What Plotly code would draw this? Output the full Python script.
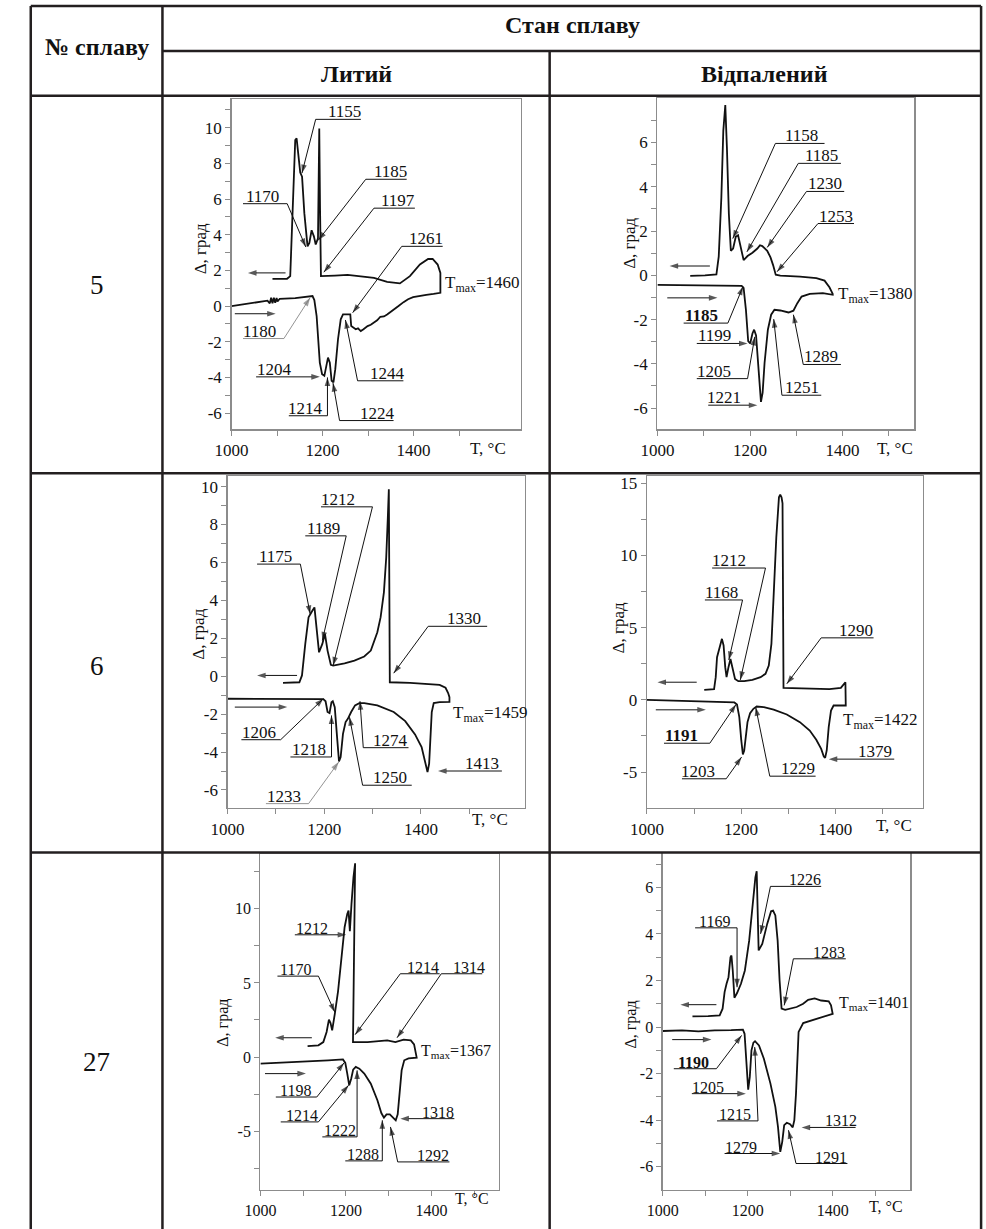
import plotly.graph_objects as go

W, H = 986, 1229
SERIF = "Liberation Serif, Times New Roman, serif"
INK = "#111111"
FRAME = "#8c8c8c"
RULE = "#231f20"
GRAYLEAD = "#777777"

# ======================= DATA: DTA curves (T, °C ; Δ, град) =======================
# Alloy 5, cast
a5c_heat_T = [1000, 1025, 1054, 1079, 1084, 1087, 1090, 1093, 1096, 1099, 1101, 1106, 1140, 1173, 1178,
              1182, 1187, 1194, 1199, 1204, 1208, 1212, 1216, 1220, 1224, 1228, 1234, 1240, 1245, 1261,
              1263, 1268, 1273, 1278, 1284, 1290, 1299, 1306, 1313, 1320, 1327, 1335, 1342, 1349, 1356,
              1367, 1378, 1388, 1399, 1414, 1428, 1444, 1459]
a5c_heat_D = [0.0, 0.09, 0.22, 0.30, 0.15, 0.47, 0.15, 0.47, 0.19, 0.45, 0.26, 0.41, 0.45, 0.52, 0.56,
              0.34, -0.56, -3.17, -3.82, -3.91, -3.35, -2.89, -3.17, -4.19, -4.28, -3.54, -1.86, -0.74, -0.47, -0.47,
              -1.12, -1.22, -1.30, -1.25, -1.40, -1.30, -1.12, -1.05, -0.93, -0.80, -0.60, -0.58, -0.47, -0.35, -0.19,
              0.0, 0.22, 0.38, 0.50, 0.58, 0.63, 0.68, 0.745]
a5c_cool_T = [1090, 1122, 1129, 1135, 1140, 1143, 1147, 1151, 1155, 1160, 1167, 1171, 1176, 1181, 1185,
              1190, 1192.8, 1194.5, 1196.5, 1227, 1255, 1284, 1313, 1342, 1370, 1392, 1414, 1432, 1442,
              1453, 1459]
a5c_cool_D = [1.53, 1.53, 1.68, 6.15, 9.31, 9.40, 8.57, 7.49, 7.26, 5.21, 3.35, 3.54, 4.25, 3.91, 3.45,
              3.80, 9.96, 5.50, 1.68, 1.71, 1.75, 1.68, 1.58, 1.36, 1.27, 1.68, 2.33, 2.64, 2.64,
              2.33, 1.86]

# Alloy 5, annealed
a5a_heat_T = [1000, 1053.1, 1123.9, 1182, 1186.2, 1191.2, 1196.1, 1200.4, 1205.3, 1208.9, 1213.1, 1218.1,
              1223.7, 1227.3, 1231.5, 1238.6, 1245.7, 1252.8, 1265.5, 1283.2, 1293.8, 1302.3, 1311.5,
              1329.2, 1357.5, 1378.8]
a5a_heat_D = [-0.43, -0.45, -0.48, -0.48, -0.57, -1.56, -2.98, -3.08, -2.63, -2.46, -2.72, -4.25,
              -5.72, -5.30, -3.95, -2.46, -1.78, -1.56, -1.59, -1.68, -1.60, -1.26, -0.96,
              -0.84, -0.81, -0.88]
a5a_cool_T = [1070.8, 1102.7, 1127.4, 1132.4, 1138.1, 1142.3, 1146.6, 1150.1, 1154.3, 1158.6, 1163.5,
              1169.2, 1174.2, 1179.1, 1186.2, 1194.7, 1205.3, 1215.9, 1221.6, 1226.6, 1231.5, 1237.2,
              1244.3, 1249.9, 1255.6, 1265.5, 1308, 1343.4, 1361.1, 1371.7, 1378.8]
a5a_cool_D = [-0.03, 0.0, 0.04, 0.84, 3.53, 6.53, 7.69, 5.78, 2.78, 1.11, 1.21,
              1.74, 1.81, 1.29, 0.69, 0.87, 1.02, 1.21, 1.36, 1.32, 1.21, 1.11,
              0.81, 0.46, 0.03, -0.01, -0.06, -0.13, -0.24, -0.54, -0.84]

# Alloy 6, cast
a6c_heat_T = [1000, 1072.5, 1140.3, 1198, 1202.7, 1206.8, 1210.9, 1214.9, 1217.6, 1221.7, 1226.5, 1230.5,
              1233.9, 1238.7, 1244.1, 1248.8, 1255.6, 1263.7, 1272.6, 1282.7, 1309.8, 1343.7, 1367.5,
              1387.8, 1401.4, 1409.5, 1413.6, 1417, 1419.7, 1422.4, 1426.5, 1438.7, 1459]
a6c_heat_D = [-1.19, -1.19, -1.23, -1.21, -1.32, -1.89, -1.95, -1.37, -1.32, -1.63, -3.21, -4.49,
              -4.26, -3.04, -2.42, -2.25, -1.89, -1.54, -1.42, -1.42, -1.54, -1.89, -2.37,
              -3.07, -3.74, -4.53, -5.05, -4.61, -3.21, -1.89, -1.42, -1.37, -1.35]
a6c_cool_T = [1114.6, 1148.5, 1153.9, 1160.7, 1167.5, 1171.5, 1175.6, 1179.7, 1184.4, 1189.2, 1196,
              1201.4, 1206.8, 1213.6, 1218.3, 1242, 1262.4, 1282.7, 1296.3, 1303, 1309.8, 1316.6,
              1323.4, 1328.2, 1331.5, 1333.6, 1335.6, 1377.6, 1411.5, 1438.7, 1450.9, 1456.3, 1459]
a6c_cool_D = [-0.35, -0.32, 0.04, 1.70, 3.11, 3.25, 3.46, 3.63, 2.40, 1.26, 1.70,
              2.23, 1.35, 0.60, 0.56, 0.68, 0.82, 1.04, 1.35, 1.88, 2.32, 3.11,
              4.42, 6.26, 8.37, 9.86, -0.32, -0.35, -0.40, -0.46, -0.61, -0.89, -1.11]

# Alloy 6, annealed
a6a_heat_T = [1000, 1074.4, 1144, 1185.7, 1191.3, 1196.2, 1200.4, 1203.8, 1206.6, 1209.4, 1213.6, 1219.1,
              1226.1, 1233.1, 1248.4, 1269.2, 1297.1, 1324.9, 1345.8, 1359.7, 1370.1, 1375.7, 1378.5,
              1381.9, 1386.1, 1391, 1396.5, 1422.3]
a6a_heat_D = [0.0, -0.07, -0.14, -0.18, -0.32, -1.20, -2.81, -3.78, -3.50, -2.58, -1.54, -0.92,
              -0.62, -0.46, -0.51, -0.67, -1.01, -1.54, -2.12, -2.76, -3.39, -3.92, -4.01,
              -3.50, -1.89, -0.74, -0.39, -0.39]
a6a_cool_T = [1121.7, 1142.6, 1146.1, 1148.9, 1152.4, 1155.8, 1159.3, 1162.8, 1166.3, 1169.1, 1173.2,
              1177.4, 1181.6, 1187.1, 1194.1, 1206.6, 1224, 1241.4, 1251.8, 1258.8, 1264.4, 1269.2,
              1274.8, 1280.4, 1283.1, 1285.9, 1288, 1290.1, 1317.9, 1352.7, 1387.5, 1411.9, 1418.8,
              1421.6, 1422.3]
a6a_cool_D = [0.69, 0.74, 1.57, 2.95, 3.23, 3.76, 4.22, 3.76, 2.26, 1.57, 2.26,
              2.83, 2.26, 1.45, 1.29, 1.29, 1.38, 1.57, 1.80, 2.37, 3.87, 7.10,
              11.24, 14.01, 14.19, 14.01, 13.59, 0.83, 0.83, 0.76, 0.74, 0.83, 1.11,
              1.22, -0.39]

# Alloy 27, cast
a27c_heat_T = [1000, 1043.7, 1082, 1120.3, 1158.6, 1193.1, 1198.5, 1203.1, 1207.7, 1212.3, 1216.9, 1223,
               1231.4, 1242.9, 1258.2, 1273.6, 1282.8, 1288.9, 1295, 1302.7, 1310.3, 1316.5, 1321.1,
               1325.7, 1330.3, 1336.4, 1346.4, 1365.5]
a27c_heat_D = [-0.45, -0.40, -0.34, -0.27, -0.22, -0.16, -0.40, -1.12, -1.91, -1.46, -0.85, -0.67,
               -0.79, -1.12, -1.80, -2.92, -3.78, -4.09, -3.87, -3.87, -4.09, -4.27, -3.87,
               -2.47, -0.90, -0.22, -0.09, -0.04]
a27c_cool_T = [1110.3, 1135.6, 1147.1, 1154.8, 1160.2, 1164, 1167.8, 1174, 1181.6, 1189.3, 1196.9,
               1203.1, 1206.1, 1209.2, 1213, 1217.6, 1221.5, 1216.5, 1250.6, 1296.6, 1315.7, 1334.9,
               1351.7, 1359.4, 1364, 1365.5]
a27c_cool_D = [0.74, 0.79, 1.01, 1.69, 2.52, 2.29, 1.80, 2.92, 4.45, 6.63, 8.76,
               9.66, 9.89, 8.49, 10.34, 12.13, 13.08, 1.01, 1.01, 1.12, 1.01, 1.17,
               1.12, 0.85, 0.22, -0.04]

# Alloy 27, annealed
a27a_heat_T = [1000, 1045.5, 1084, 1122.5, 1161.1, 1188.8, 1192.7, 1196.5, 1201.2, 1205, 1208.9, 1213.5,
               1217.3, 1226.6, 1238.1, 1253.6, 1265.1, 1271.3, 1276.7, 1281.3, 1285.9, 1292.1, 1299.8,
               1306, 1309.8, 1313.7, 1316.8, 1319.8, 1330.6, 1353.7, 1384.6, 1400]
a27a_heat_D = [-0.17, -0.14, -0.19, -0.14, -0.13, -0.11, -0.29, -1.29, -2.69, -2.14, -1.0, -0.67,
               -0.61, -0.79, -1.36, -2.43, -3.43, -4.29, -5.36, -4.93, -4.21, -4.11, -4.17,
               -4.31, -4.0, -2.86, -1.29, -0.21, 0.17, 0.31, 0.47, 0.57]
a27a_cool_T = [1070.1, 1107.1, 1134.1, 1141, 1145.7, 1150.3, 1154.9, 1159.5, 1161.8, 1164.9, 1168.8,
               1175, 1184.2, 1193.4, 1203.5, 1211.9, 1218.1, 1221.2, 1223.5, 1225.8, 1234.3, 1245.9,
               1255.1, 1259.7, 1265.1, 1270.5, 1275.1, 1279.8, 1288.2, 1303.7, 1315.2, 1330.6, 1342.2,
               1357.6, 1373, 1390.7, 1396.1, 1400]
a27a_cool_D = [0.46, 0.47, 0.50, 0.79, 1.50, 1.86, 2.14, 3.00, 3.07, 2.43, 1.26,
               1.46, 1.86, 2.43, 3.71, 5.29, 6.43, 6.69, 5.86, 3.29, 3.57, 4.43,
               4.97, 5.0, 4.79, 3.71, 2.00, 0.79, 0.74, 0.81, 0.86, 1.00, 1.17,
               1.23, 1.14, 1.10, 0.93, 0.57]

# ======================= DATA: marked points (label, T, Δ at arrow tip) =======================
a5c_labels = ["1155", "1170", "1185", "1197", "1261", "1180", "1204", "1214", "1224", "1244"]
a5c_mark_T = [1154.7, 1163.3, 1190.6, 1202.9, 1266.2, 1172.7, 1194.2, 1210.8, 1223.0, 1250.3]
a5c_mark_D = [7.45, 3.31, 3.69, 1.90, -0.37, 0.47, -3.97, -4.0, -4.32, -0.78]

a5a_labels = ["1158", "1185", "1230", "1253", "1185", "1199", "1205", "1221", "1251", "1289"]
a5a_mark_T = [1162.8, 1193.3, 1237.2, 1258.4, 1184.8, 1194.7, 1210.3, 1215.9, 1251.3, 1293.8]
a5a_mark_D = [1.66, 1.06, 1.26, 0.16, -0.51, -3.08, -2.78, -5.87, -1.98, -1.78]

a6c_labels = ["1175", "1189", "1212", "1330", "1206", "1218", "1233", "1250", "1274", "1413"]
a6c_mark_T = [1170.9, 1196.0, 1218.3, 1343.7, 1198.0, 1215.0, 1229.8, 1252.2, 1273.9, 1435.3]
a6c_mark_D = [3.28, 1.88, 0.56, 0.16, -1.19, -2.07, -4.53, -2.16, -1.32, -5.0]

a6a_labels = ["1212", "1168", "1290", "1191", "1203", "1229", "1379"]
a6a_mark_T = [1198.3, 1173.9, 1297.1, 1189.2, 1201.0, 1231.0, 1386.1]
a6a_mark_D = [1.38, 2.76, 1.11, -0.32, -3.96, -0.51, -4.10]

a27c_labels = ["1212", "1170", "1214", "1314", "1198", "1214", "1222", "1288", "1292", "1318"]
a27c_mark_T = [1200.8, 1174.0, 1221.5, 1319.5, 1195.4, 1206.1, 1226.1, 1285.1, 1304.2, 1327.2]
a27c_mark_D = [8.25, 3.03, 1.51, 1.30, -0.40, -1.91, -0.90, -4.27, -4.72, -4.16]

a27a_labels = ["1169", "1226", "1283", "1190", "1205", "1215", "1279", "1291", "1312"]
a27a_mark_T = [1175.0, 1230.4, 1285.9, 1185.7, 1195.8, 1216.6, 1276.7, 1296.0, 1326.8]
a27a_mark_D = [1.71, 4.0, 0.93, -0.36, -2.86, -0.86, -5.43, -4.43, -4.31]

# maximum heating temperatures
tmax_values = ["1460", "1380", "1459", "1422", "1367", "1401"]

# ======================= LAYOUT: leader geometry & styles =======================
# (text centre T, far end of shelf T, elbow T, shelf level Δ)
a5c_leaders = [(1249, 1284.2, 1184.9, 10.47), (1068.3, 1025.2, 1122.3, 5.74), (1348.9, 1384.9, 1295.0, 7.11),
               (1366.9, 1402.9, 1313.0, 5.49), (1428.0, 1464.0, 1374.1, 3.35), (1061.1, 1025.2, 1115.1, -1.82),
               (1093.5, 1054.0, 1194.2, -3.97), (1163.3, 1125.9, 1210.8, -6.15), (1320.1, 1356.1, 1237.4, -6.42),
               (1341.7, 1377.7, 1277.0, -4.19)]
a5c_style = ["", "", "", "", "", "gray", "", "", "", ""]
a5a_leaders = [(1311.5, 1361.1, 1254.9, 5.96), (1354.0, 1396.5, 1304.4, 5.06), (1361.1, 1403.6, 1322.1, 3.79),
               (1385.9, 1424.8, 1346.9, 2.34), (1095.6, 1056.6, 1152.2, -2.16), (1122.5, 1085.0, 1194.7, -3.08),
               (1122.5, 1085.0, 1194.7, -4.67), (1143.7, 1109.7, 1215.9, -5.87), (1311.5, 1354.0, 1269.0, -5.42),
               (1354.0, 1396.5, 1315.1, -4.03)]
a5a_style = ["", "", "", "", "bold", "", "", "", "", ""]
a6c_leaders = [(1099.7, 1061.0, 1150.5, 5.91), (1198.0, 1160.7, 1245.4, 7.40), (1228.5, 1193.2, 1299.7, 8.93),
               (1489.5, 1537.0, 1415.0, 2.63), (1065.8, 1028.5, 1109.8, -3.35), (1167.5, 1130.0, 1215.0, -4.26),
               (1116.6, 1079.3, 1167.5, -6.72), (1337.0, 1381.0, 1279.3, -5.75), (1337.0, 1374.3, 1280.7, -3.77),
               (1526.8, 1567.5, 1435.3, -5.0)]
a6c_style = ["", "", "", "", "", "", "gray", "", "", ""]
a6a_leaders = [(1175.3, 1138.4, 1251.8, 9.12), (1159.3, 1123.1, 1203.1, 6.91), (1443.2, 1481.4, 1370.1, 4.29),
               (1072.4, 1036.2, 1133.6, -3.0), (1107.8, 1074.4, 1168.4, -5.46), (1321.4, 1358.3, 1260.9, -5.28),
               (1484.9, 1525.3, 1386.1, -4.10)]
a6a_style = ["", "", "", "bold", "", "", ""]
a27c_leaders = [(1120.3, 1080.5, 1200.8, 8.25), (1082.0, 1039.8, 1135.6, 5.46), (1380.9, 1419.2, 1327.2, 5.62),
                (1488.1, 1518.8, 1423.0, 5.62), (1082.0, 1036.0, 1131.8, -2.70), (1097.3, 1047.5, 1135.6, -4.38),
                (1185.4, 1144.8, 1226.1, -5.39), (1239.1, 1198.5, 1285.1, -7.01), (1403.8, 1442.1, 1321.1, -7.08),
                (1415.3, 1453.6, 1327.2, -4.16)]
a27c_style = [""] * 10
a27a_leaders = [(1122.5, 1076.3, 1175.0, 4.26), (1334.5, 1373.0, 1253.6, 6.04), (1392.3, 1430.8, 1307.5, 2.93),
                (1072.4, 1026.2, 1126.4, -1.79), (1107.1, 1068.6, 1195.8, -2.86), (1170.3, 1127.9, 1224.3, -4.03),
                (1184.2, 1145.7, 1276.7, -5.43), (1396.1, 1434.7, 1313.7, -5.86), (1419.3, 1453.9, 1326.8, -4.31)]
a27a_style = ["", "", "", "bold", "", "", "", "", ""]

panels = [
    dict(heat=(a5c_heat_T, a5c_heat_D), cool=(a5c_cool_T, a5c_cool_D),
         lab=(a5c_labels, a5c_mark_T, a5c_mark_D), lead=a5c_leaders, sty=a5c_style,
         dirs=[(1118.7, 1036.0, 1.86), (1007.2, 1097.1, -0.43)], tmax=(1464, 1.21),
         box=(218.3, 513, 97, 428), xr=[1000, 1636.5], yr=[-6.91, 11.62],
         ymaj=[-6, -4, -2, 0, 2, 4, 6, 8, 10], ymin=[-5, -3, -1, 1, 3, 5, 7, 9, 11], fs=17,
         ylab=(187, 247), tlab=(479, 447)),
    dict(heat=(a5a_heat_T, a5a_heat_D), cool=(a5a_cool_T, a5a_cool_D),
         lab=(a5a_labels, a5a_mark_T, a5a_mark_D), lead=a5a_leaders, sty=a5a_style,
         dirs=[(1113.3, 1026.2, 0.42), (1021.2, 1129.6, -1.02)], tmax=(1385.9, -0.91),
         box=(651.7, 913, 96, 428), xr=[1000, 1555], yr=[-6.96, 8.02],
         ymaj=[-6, -4, -2, 0, 2, 4, 6], ymin=[-5, -3, -1, 1, 3, 5, 7], fs=17,
         ylab=(623, 242), tlab=(893, 447)),
    dict(heat=(a6c_heat_T, a6c_heat_D), cool=(a6c_cool_T, a6c_cool_D),
         lab=(a6c_labels, a6c_mark_T, a6c_mark_D), lead=a6c_leaders, sty=a6c_style,
         dirs=[(1143.7, 1061.0, 0.04), (1014.9, 1123.4, -1.63)], tmax=(1462.4, -1.98),
         box=(214.3, 517, 474.7, 807.3), xr=[1000, 1615.5], yr=[-6.95, 10.56],
         ymaj=[-6, -4, -2, 0, 2, 4, 6, 8, 10], ymin=[-5, -3, -1, 1, 3, 5, 7, 9], fs=17,
         ylab=(185, 633), tlab=(481, 819)),
    dict(heat=(a6a_heat_T, a6a_heat_D), cool=(a6a_cool_T, a6a_cool_D),
         lab=(a6a_labels, a6a_mark_T, a6a_mark_D), lead=a6a_leaders, sty=a6a_style,
         dirs=[(1105.7, 1022.3, 1.22), (1018.8, 1125.2, -0.69)], tmax=(1411.9, -1.47),
         box=(641, 921.7, 475, 807.3), xr=[1000, 1586], yr=[-7.48, 15.47],
         ymaj=[-5, 0, 5, 10, 15], ymin=[-2.5, 2.5, 7.5, 12.5], fs=17,
         ylab=(613, 627), tlab=(892, 825)),
    dict(heat=(a27c_heat_T, a27c_heat_D), cool=(a27c_cool_T, a27c_cool_D),
         lab=(a27c_labels, a27c_mark_T, a27c_mark_D), lead=a27c_leaders, sty=a27c_style,
         dirs=[(1120.3, 1034.5, 1.30), (1010.7, 1106.5, -1.12)], tmax=(1371.7, 0.40),
         box=(247.7, 490, 853.3, 1190), xr=[1000, 1557], yr=[-8.98, 13.71],
         ymaj=[-5, 0, 5, 10], ymin=[-7.5, -2.5, 2.5, 7.5, 12.5], fs=16,
         ylab=(210, 1022), tlab=(463, 1198)),
    dict(heat=(a27a_heat_T, a27a_heat_D), cool=(a27a_cool_T, a27a_cool_D),
         lab=(a27a_labels, a27a_mark_T, a27a_mark_D), lead=a27a_leaders, sty=a27a_style,
         dirs=[(1126.4, 1041.6, 0.96), (1022.4, 1114.8, -0.54)], tmax=(1409.2, 1.0),
         box=(657, 909, 852.7, 1190), xr=[1000, 1582.7], yr=[-7.0, 7.46],
         ymaj=[-6, -4, -2, 0, 2, 4, 6], ymin=[-5, -3, -1, 1, 3, 5, 7], fs=16,
         ylab=(625, 1024), tlab=(884, 1206)),
]

fig = go.Figure()
annotations = []


def px(x):
    return x / W


def py(y):
    return 1 - y / H


for i, p in enumerate(panels):
    n = i + 1
    xa = "x" if n == 1 else f"x{n}"
    ya = "y" if n == 1 else f"y{n}"
    x0, x1, y0, y1 = p["box"]
    fs = p["fs"]
    axis_common = dict(showline=True, linecolor=FRAME, linewidth=1.3, mirror=True,
                       ticks="outside", ticklen=5, tickwidth=1, tickcolor=FRAME,
                       showgrid=False, zeroline=False, fixedrange=True,
                       tickfont=dict(family=SERIF, size=fs, color=INK))
    fig.layout[f"xaxis{'' if n == 1 else n}"] = dict(
        axis_common, domain=[px(x0), px(x1)], range=p["xr"], anchor=ya,
        tickmode="array", tickvals=[1000, 1200, 1400], ticktext=["1000", "1200", "1400"],
        minor=dict(ticks="outside", ticklen=5, tickwidth=1, tickcolor=FRAME,
                   tickmode="array", tickvals=[1100, 1300, 1500], showgrid=False))
    fig.layout[f"yaxis{'' if n == 1 else n}"] = dict(
        axis_common, domain=[py(y1), py(y0)], range=p["yr"], anchor=xa,
        tickmode="array", tickvals=p["ymaj"], ticktext=[f"{v:g}" for v in p["ymaj"]],
        minor=dict(ticks="outside", ticklen=5, tickwidth=1, tickcolor=FRAME,
                   tickmode="array", tickvals=p["ymin"], showgrid=False))

    # heating curve followed by the cooling curve (joined at T max)
    hT, hD = p["heat"]
    cT, cD = p["cool"]
    fig.add_trace(go.Scatter(x=list(hT) + list(cT)[::-1], y=list(hD) + list(cD)[::-1],
                             mode="lines", line=dict(color=INK, width=1.8),
                             xaxis=xa, yaxis=ya, hoverinfo="skip", showlegend=False))

    # callouts
    labels, mT, mD = p["lab"]
    for lab, tT, tD, (txT, farT, elT, shD), st in zip(labels, mT, mD, p["lead"], p["sty"]):
        if abs(elT - tT) < 1e-6 and abs(shD - tD) < 1e-6:
            xs, ys = [farT, tT], [shD, tD]
        else:
            xs, ys = [farT, elT, tT], [shD, shD, tD]
        col = GRAYLEAD if st == "gray" else INK
        lw = 0.8 if st == "gray" else 1.0
        fig.add_trace(go.Scatter(
            x=xs, y=ys, mode="lines+markers", xaxis=xa, yaxis=ya,
            line=dict(color=col, width=lw),
            marker=dict(symbol="arrow", size=[0] * (len(xs) - 1) + [9], angleref="previous",
                        color=col, line=dict(width=0)),
            hoverinfo="skip", showlegend=False))
        txt = f"<b>{lab}</b>" if st == "bold" else lab
        annotations.append(dict(xref=xa, yref=ya, x=txT, y=shD, text=txt, showarrow=False,
                                xanchor="center", yanchor="bottom", yshift=-4,
                                font=dict(family=SERIF, size=fs, color=INK)))

    # direction-of-run arrows
    for (ta, tb, d) in p["dirs"]:
        fig.add_trace(go.Scatter(
            x=[ta, tb], y=[d, d], mode="lines+markers", xaxis=xa, yaxis=ya,
            line=dict(color=INK, width=1.0),
            marker=dict(symbol="arrow", size=[0, 9], angleref="previous", color=INK, line=dict(width=0)),
            hoverinfo="skip", showlegend=False))

    # T max label
    tx, td = p["tmax"]
    annotations.append(dict(xref=xa, yref=ya, x=tx, y=td, showarrow=False, xanchor="left", yanchor="middle",
                            text=f"T<sub>max</sub>={tmax_values[i]}",
                            font=dict(family=SERIF, size=fs, color=INK)))
    # axis titles
    lx, ly = p["ylab"]
    annotations.append(dict(xref="paper", yref="paper", x=px(lx), y=py(ly), showarrow=False,
                            text="Δ, град", textangle=-90, xanchor="center", yanchor="middle",
                            font=dict(family=SERIF, size=fs, color=INK)))
    tx2, ty2 = p["tlab"]
    annotations.append(dict(xref="paper", yref="paper", x=px(tx2), y=py(ty2), showarrow=False,
                            text="T, °C", xanchor="center", yanchor="middle",
                            font=dict(family=SERIF, size=fs, color=INK)))

# ---------------- table ----------------
shapes = []


def rule(xa_, ya_, xb_, yb_):
    shapes.append(dict(type="line", xref="paper", yref="paper", x0=px(xa_), y0=py(ya_), x1=px(xb_), y1=py(yb_),
                       line=dict(color=RULE, width=2.5), layer="above"))


rule(14, 4, 981, 4)
rule(14, 4, 14, 1229)
rule(981, 4, 981, 1229)
rule(148, 4, 148, 1229)
rule(148, 49, 981, 49)
rule(542, 49, 542, 1229)
rule(14, 94, 981, 94)
rule(14, 472, 981, 472)
rule(14, 852, 981, 852)

header_font = dict(family=SERIF, size=24, color=INK)
for text, x, y in [("<b>№ сплаву</b>", 81, 45), ("<b>Стан сплаву</b>", 565, 23),
                   ("<b>Литий</b>", 345, 72), ("<b>Відпалений</b>", 761, 72)]:
    annotations.append(dict(xref="paper", yref="paper", x=px(x), y=py(y), text=text, showarrow=False,
                            xanchor="center", yanchor="middle", font=header_font))
for text, y in [("5", 283), ("6", 665), ("27", 1062)]:
    annotations.append(dict(xref="paper", yref="paper", x=px(81), y=py(y), text=text, showarrow=False,
                            xanchor="center", yanchor="middle",
                            font=dict(family=SERIF, size=27, color=INK)))

fig.update_layout(width=W, height=H, autosize=False,
                  margin=dict(l=0, r=0, t=0, b=0, pad=0),
                  paper_bgcolor="white", plot_bgcolor="white",
                  showlegend=False, annotations=annotations, shapes=shapes)

fig.write_html("out.html", config={"displayModeBar": False, "staticPlot": True},
               post_script="document.body.style.margin='0';document.body.style.overflow='hidden';")
